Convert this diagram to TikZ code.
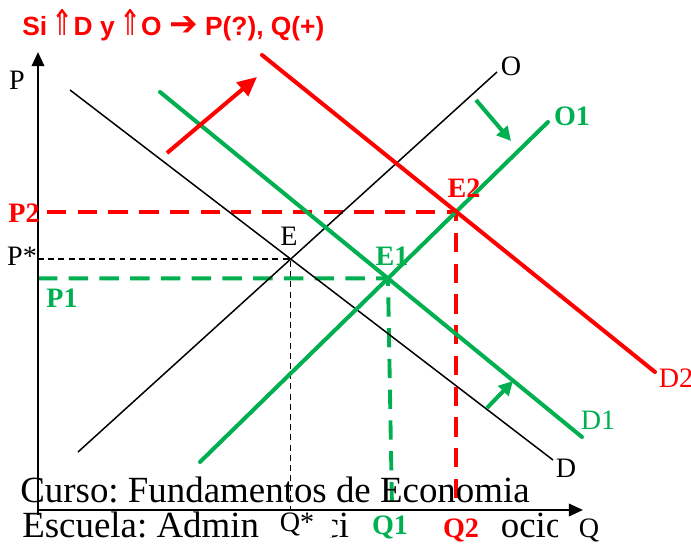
\documentclass[tikz,border=0pt]{standalone}
\usepackage{fontspec}
\setmainfont{Liberation Serif}
\newfontfamily\titlefont{Liberation Sans}
\newfontfamily\symfont{DejaVu Sans}
\usetikzlibrary{arrows.meta}
\definecolor{vfgreen}{HTML}{00B050}
\frenchspacing
\begin{document}
\begin{tikzpicture}[x=0.02cm,y=-0.02cm,>={Triangle[length=8pt,width=7pt]},
  curve/.style={line width=2.3pt,line cap=round},
  thincurve/.style={line width=0.85pt},
  guide/.style={dash pattern=on 11pt off 6.5pt,line width=2.2pt},
  shiftarrow/.style={-{Triangle[length=11pt,width=10pt]},line width=2.3pt},
  lab/.style={font=\fontsize{16}{16}\selectfont,inner sep=1pt},
  blab/.style={font=\bfseries\fontsize{16}{16}\selectfont,inner sep=1pt},
  big/.style={font=\fontsize{21}{21}\selectfont,inner sep=0pt,anchor=base west}]
\useasboundingbox (0,0) rectangle (691,544);
% ends of the curves
\coordinate (origin) at (38,510);
\coordinate (ptop) at (38,52);
\coordinate (qend) at (583,510);
\coordinate (d0a) at (70,90);   \coordinate (d0b) at (553,460);
\coordinate (o0a) at (78,452);  \coordinate (o0b) at (497,72);
\coordinate (d1a) at (160,92);  \coordinate (d1b) at (582,437);
\coordinate (o1a) at (200,462); \coordinate (o1b) at (548,122);
\coordinate (d2a) at (262,55);  \coordinate (d2b) at (655,372);
\coordinate (E) at (intersection of d0a--d0b and o0a--o0b);
\coordinate (E1) at (intersection of d1a--d1b and o1a--o1b);
\coordinate (E2) at (intersection of d2a--d2b and o1a--o1b);
\coordinate (q1) at (392,508);
\coordinate (ra) at (167,153);  \coordinate (rb) at (257,77);
\coordinate (ga) at (476,100);  \coordinate (gb) at (511,141);
\coordinate (ha) at (487,408);  \coordinate (hb) at (513,381);

% title
\node[font=\titlefont\bfseries\fontsize{15}{16}\selectfont,text=red,anchor=base west,inner sep=0pt] (title) at (22,36)
  {Si\,{\symfont\mdseries\scalebox{1}[1.35]{⇑}}D y\,{\symfont\mdseries\scalebox{1}[1.35]{⇑}}O {\symfont\scalebox{1.3}{➔}} P(?), Q(+)};

% guides
\draw[dash pattern=on 3.4pt off 2.4pt,line width=0.8pt] (E -| origin) -- (E) -- (E |- origin);
\draw[guide,vfgreen] (E1 -| origin) -- (E1) -- (q1);
\draw[guide,red] ([xshift=0.18cm]E2 -| origin) -- (E2) -- (E2 |- origin);

% axes
\draw[line width=1.4pt,->] ([yshift=-0.1cm]origin) -- (ptop);
\draw[line width=1.4pt,->] (origin) -- (qend);

% curves
\draw[thincurve] (d0a) -- (d0b);
\draw[thincurve] (o0a) -- (o0b);
\draw[curve,vfgreen] (d1a) -- (d1b);
\draw[curve,vfgreen] (o1a) -- (o1b);
\draw[curve,red] (d2a) -- (d2b);

% shifts
\draw[shiftarrow,red] (ra) -- (rb);
\draw[shiftarrow,vfgreen,-{Triangle[length=8pt,width=8pt]}] (ga) -- (gb);
\draw[shiftarrow,vfgreen,-{Triangle[length=8pt,width=8pt]}] (ha) -- (hb);

% labels
\node[lab] (plab) at (17,80) {P};
\node[lab] (olab) at (511,66) {O};
\node[blab,text=vfgreen] (o1lab) at (572,116) {O1};
\node[blab,text=red] (e2lab) at (464,188) {E2};
\node[blab,text=red] (p2lab) at (24,213) {P2};
\node[lab] (pslab) at (22,256) {P*};
\node[lab] (elab) at (289,236) {E};
\node[blab,text=vfgreen] (e1lab) at (392,256) {E1};
\node[blab,text=vfgreen] (p1lab) at (62,298) {P1};
\node[lab,text=red] (d2lab) at (676,378) {D2};
\node[lab,text=vfgreen] (d1lab) at (598,420) {D1};
\node[lab] (dlab) at (566,468) {D};

% footer
\node[big] (curso) at (20,502) {Curso: Fundamentos de Economia};
\node[big] (esc1) at (22,538) {Escuela: Admin};
\node[big] (esc2) at (22,538) {\hphantom{Escuela: Administra}ci};
\node[big] (esc3) at (22,538) {\hphantom{Escuela: Administración de Neg}ocio};

\node[lab,fill=white,minimum width=1.4cm] (qslab) at (297,524) {Q*};
\node[blab,text=vfgreen] (q1lab) at (390,527) {Q1};
\node[blab,text=red] (q2lab) at (461,530) {Q2};
\node[lab,fill=white,minimum width=1.24cm] (qlab) at (589,530) {Q};
\end{tikzpicture}
\end{document}
